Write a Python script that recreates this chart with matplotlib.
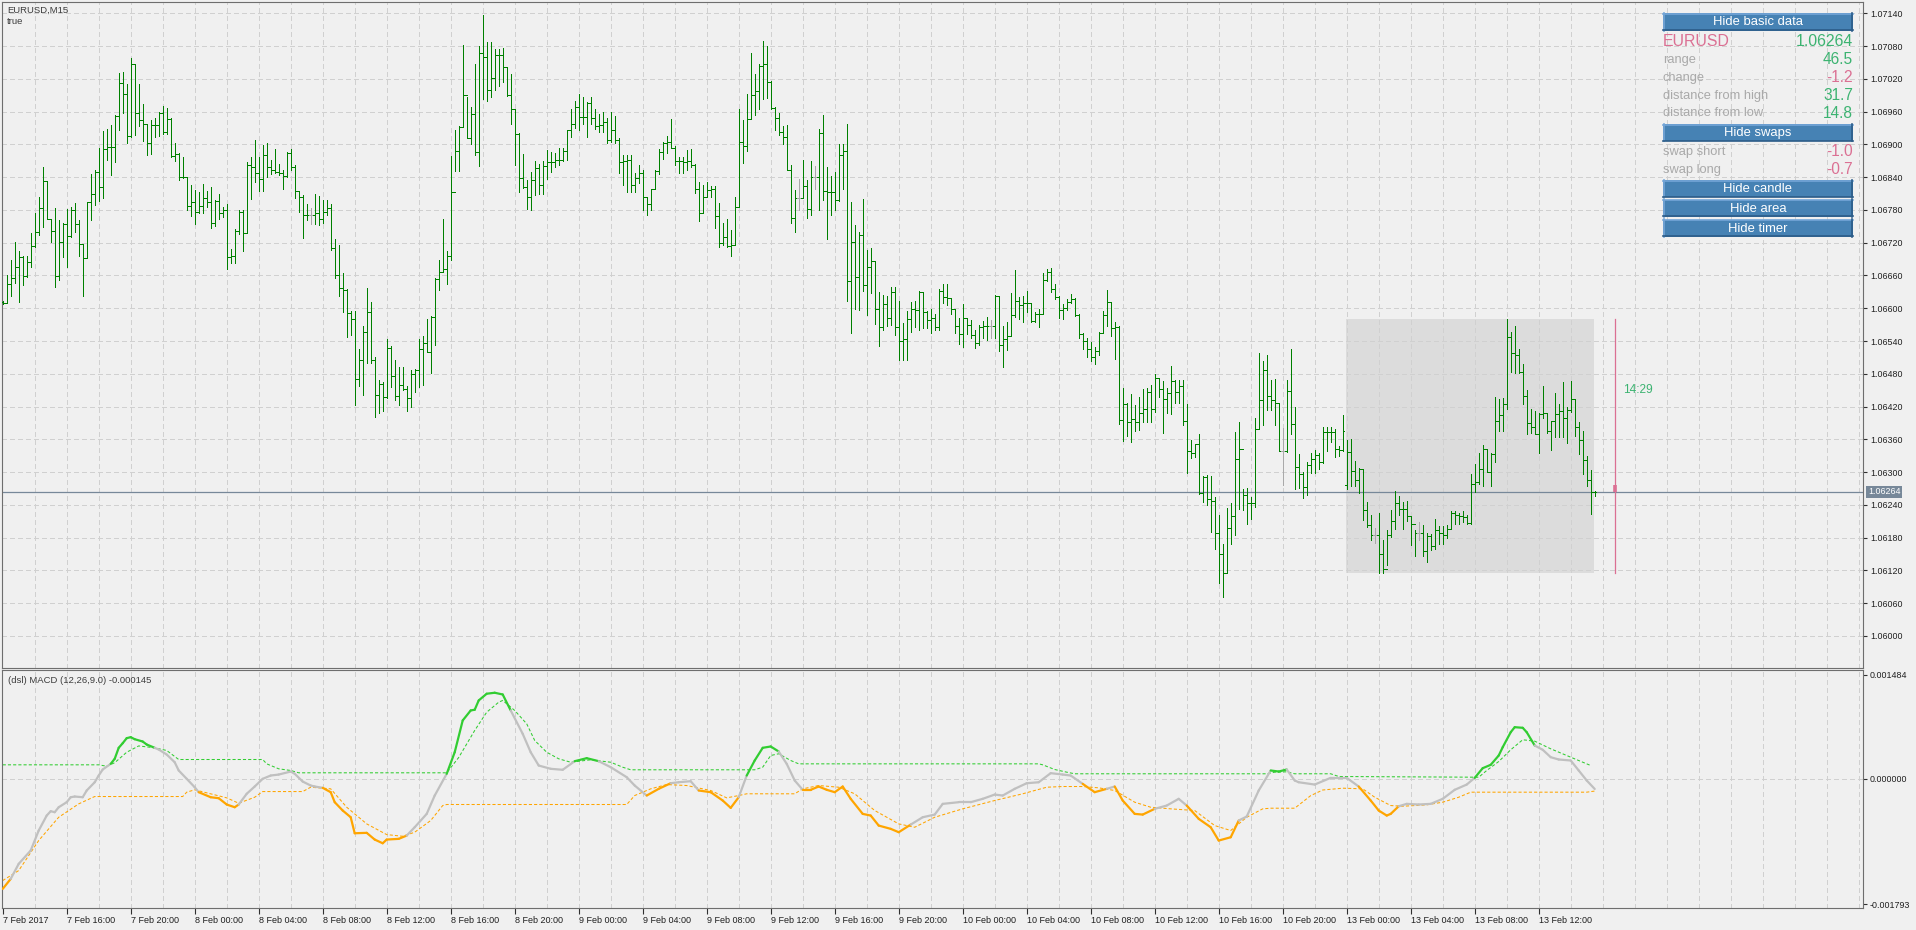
import numpy as np
import matplotlib
matplotlib.use("Agg")
import matplotlib.pyplot as plt
from matplotlib.collections import LineCollection
from matplotlib.patches import Rectangle
from matplotlib import transforms

plt.rcParams['font.family'] = ['Liberation Sans', 'DejaVu Sans']

# EURUSD M15 bars, prices in points (1e-5), bar 0 = 7 Feb 2017 12:00
high_pts = [
    106614, 106661, 106688, 106721, 106705, 106695, 106695, 106737, 106775, 106803,
    106859, 106833, 106764, 106783, 106761, 106756, 106781, 106786, 106792, 106761,
    106717, 106794, 106846, 106853, 106893, 106925, 106929, 106935, 106953, 107031,
    107032, 107011, 107058, 107048, 107010, 106974, 106938, 106944, 106949, 106960,
    106970, 106966, 106949, 106902, 106885, 106877, 106841, 106825, 106816, 106813,
    106828, 106814, 106822, 106798, 106810, 106786, 106791, 106709, 106745, 106780,
    106780, 106867, 106877, 106908, 106877, 106898, 106903, 106871, 106892, 106865,
    106853, 106886, 106892, 106863, 106814, 106807, 106791, 106783, 106809, 106805,
    106799, 106799, 106791, 106726, 106716, 106664, 106636, 106595, 106595, 106525,
    106567, 106637, 106612, 106510, 106469, 106465, 106543, 106531, 106505, 106492,
    106492, 106458, 106487, 106488, 106543, 106549, 106580, 106586, 106656, 106688,
    106763, 106705, 106879, 106926, 106933, 107082, 106986, 106969, 107047, 107080,
    107137, 107087, 107087, 107074, 107074, 107077, 107042, 107029, 106964, 106920,
    106882, 106835, 106850, 106870, 106865, 106869, 106890, 106886, 106885, 106893,
    106894, 106926, 106965, 106980, 106993, 106986, 106978, 106986, 106965, 106955,
    106960, 106949, 106960, 106952, 106912, 106880, 106880, 106880, 106848, 106863,
    106853, 106804, 106819, 106853, 106891, 106905, 106915, 106946, 106897, 106877,
    106877, 106890, 106891, 106864, 106832, 106825, 106832, 106824, 106824, 106792,
    106757, 106764, 106743, 106804, 106964, 106944, 106993, 107068, 107029, 107048,
    107090, 107080, 107016, 106968, 106957, 106933, 106935, 106863, 106816, 106836,
    106871, 106835, 106870, 106860, 106929, 106953, 106859, 106843, 106850, 106901,
    106901, 106937, 106794, 106752, 106740, 106800, 106706, 106711, 106687, 106630,
    106624, 106622, 106639, 106639, 106613, 106573, 106595, 106612, 106614, 106631,
    106629, 106595, 106599, 106589, 106635, 106644, 106644, 106617, 106598, 106582,
    106607, 106583, 106578, 106560, 106569, 106576, 106584, 106579, 106624, 106623,
    106567, 106574, 106628, 106670, 106621, 106623, 106631, 106609, 106593, 106599,
    106665, 106671, 106673, 106645, 106623, 106607, 106617, 106626, 106618, 106590,
    106555, 106545, 106538, 106529, 106556, 106595, 106633, 106612, 106574, 106567,
    106454, 106426, 106443, 106423, 106438, 106452, 106454, 106459, 106479, 106473,
    106466, 106454, 106494, 106468, 106468, 106468, 106424, 106359, 106352, 106370,
    106293, 106294, 106293, 106254, 106221, 106169, 106235, 106243, 106373, 106391,
    106269, 106271, 106254, 106399, 106518, 106504, 106515, 106468, 106470, 106425,
    106380, 106469, 106526, 106420, 106333, 106300, 106318, 106335, 106340, 106335,
    106382, 106383, 106382, 106379, 106347, 106405, 106359, 106360, 106321, 106307,
    106306, 106245, 106222, 106197, 106225, 106176, 106194, 106230, 106266, 106257,
    106246, 106247, 106217, 106194, 106208, 106203, 106188, 106187, 106214, 106202,
    106202, 106203, 106229, 106229, 106225, 106229, 106222, 106297, 106315, 106335,
    106349, 106343, 106335, 106438, 106433, 106435, 106581, 106557, 106568, 106526,
    106498, 106451, 106415, 106412, 106409, 106458, 106406, 106394, 106444, 106425,
    106465, 106420, 106467, 106433, 106391, 106375, 106330, 106304, 106266,
]
low_pts = [
    106608, 106609, 106622, 106647, 106612, 106642, 106658, 106676, 106713, 106735,
    106748, 106763, 106722, 106639, 106652, 106693, 106676, 106731, 106740, 106695,
    106623, 106692, 106761, 106789, 106796, 106802, 106871, 106844, 106868, 106927,
    106957, 106902, 106914, 106917, 106934, 106907, 106880, 106882, 106914, 106915,
    106919, 106919, 106877, 106870, 106835, 106839, 106780, 106769, 106755, 106775,
    106774, 106786, 106747, 106751, 106763, 106767, 106672, 106683, 106683, 106736,
    106705, 106737, 106800, 106831, 106815, 106815, 106841, 106846, 106847, 106844,
    106819, 106841, 106853, 106801, 106777, 106729, 106761, 106754, 106755, 106752,
    106756, 106770, 106706, 106655, 106622, 106594, 106547, 106551, 106423, 106458,
    106442, 106499, 106499, 106401, 106408, 106411, 106436, 106456, 106432, 106423,
    106451, 106411, 106420, 106447, 106456, 106459, 106520, 106481, 106533, 106633,
    106667, 106645, 106688, 106852, 106852, 106931, 106911, 106900, 106880, 106861,
    106983, 106980, 106986, 107000, 107007, 107015, 106989, 106938, 106863, 106813,
    106821, 106782, 106780, 106808, 106810, 106810, 106836, 106849, 106858, 106863,
    106870, 106871, 106914, 106930, 106926, 106937, 106913, 106938, 106929, 106923,
    106923, 106902, 106905, 106902, 106847, 106825, 106813, 106812, 106812, 106830,
    106780, 106771, 106779, 106818, 106846, 106873, 106885, 106893, 106862, 106847,
    106847, 106853, 106859, 106811, 106760, 106774, 106803, 106804, 106747, 106713,
    106716, 106713, 106696, 106716, 106786, 106866, 106888, 106947, 106953, 106964,
    106984, 106985, 106964, 106926, 106917, 106900, 106853, 106757, 106740, 106780,
    106801, 106766, 106771, 106818, 106779, 106799, 106727, 106771, 106779, 106797,
    106818, 106614, 106555, 106598, 106596, 106632, 106587, 106628, 106572, 106531,
    106561, 106568, 106569, 106551, 106505, 106505, 106505, 106556, 106565, 106560,
    106563, 106563, 106554, 106560, 106560, 106609, 106606, 106589, 106555, 106535,
    106529, 106552, 106545, 106528, 106532, 106545, 106542, 106545, 106546, 106522,
    106492, 106523, 106551, 106584, 106580, 106574, 106593, 106575, 106574, 106566,
    106590, 106650, 106630, 106617, 106583, 106581, 106596, 106609, 106586, 106546,
    106526, 106511, 106504, 106498, 106514, 106554, 106568, 106549, 106507, 106389,
    106357, 106366, 106355, 106376, 106377, 106391, 106391, 106391, 106410, 106438,
    106372, 106409, 106407, 106427, 106426, 106387, 106298, 106325, 106328, 106260,
    106246, 106240, 106191, 106160, 106097, 106072, 106118, 106168, 106184, 106232,
    106231, 106205, 106214, 106237, 106380, 106386, 106413, 106413, 106386, 106338,
    106277, 106336, 106370, 106269, 106271, 106252, 106258, 106298, 106298, 106305,
    106316, 106338, 106356, 106327, 106329, 106338, 106269, 106275, 106274, 106261,
    106213, 106199, 106175, 106170, 106116, 106116, 106130, 106181, 106196, 106222,
    106196, 106210, 106167, 106147, 106176, 106147, 106135, 106158, 106159, 106169,
    106169, 106180, 106196, 106205, 106205, 106208, 106205, 106205, 106263, 106278,
    106275, 106300, 106275, 106318, 106376, 106376, 106415, 106483, 106482, 106482,
    106424, 106369, 106372, 106370, 106335, 106399, 106371, 106340, 106365, 106364,
    106364, 106354, 106410, 106367, 106333, 106296, 106274, 106224, 106257,
]
open_pts = [
    106612, 106609, 106645, 106655, 106676, 106694, 106659, 106684, 106714, 106739,
    106783, 106833, 106764, 106742, 106659, 106722, 106755, 106733, 106780, 106755,
    106717, 106692, 106794, 106810, 106850, 106822, 106891, 106896, 106896, 106952,
    107013, 106993, 106916, 107048, 106958, 106944, 106938, 106902, 106935, 106936,
    106957, 106923, 106947, 106878, 106883, 106841, 106841, 106787, 106795, 106777,
    106788, 106801, 106795, 106756, 106797, 106774, 106780, 106693, 106696, 106741,
    106777, 106737, 106862, 106859, 106847, 106836, 106880, 106859, 106854, 106850,
    106848, 106842, 106885, 106859, 106814, 106804, 106770, 106770, 106770, 106775,
    106764, 106777, 106783, 106711, 106660, 106638, 106633, 106591, 106580, 106470,
    106505, 106557, 106594, 106505, 106442, 106461, 106438, 106528, 106476, 106440,
    106459, 106453, 106435, 106480, 106487, 106526, 106537, 106520, 106584, 106653,
    106667, 106671, 106695, 106812, 106888, 106932, 106991, 106911, 106955, 106886,
    107068, 107060, 107000, 107021, 107063, 107063, 107042, 106990, 106964, 106919,
    106838, 106822, 106804, 106835, 106856, 106825, 106861, 106868, 106867, 106872,
    106872, 106888, 106926, 106938, 106969, 106951, 106951, 106975, 106948, 106933,
    106935, 106941, 106908, 106926, 106908, 106868, 106870, 106872, 106825, 106838,
    106847, 106803, 106791, 106819, 106852, 106886, 106903, 106905, 106893, 106870,
    106870, 106868, 106870, 106863, 106819, 106774, 106803, 106816, 106819, 106768,
    106720, 106730, 106714, 106716, 106786, 106904, 106897, 106947, 106990, 106998,
    107044, 107048, 107015, 106966, 106949, 106923, 106914, 106853, 106766, 106801,
    106801, 106824, 106781, 106840, 106840, 106921, 106815, 106813, 106813, 106798,
    106880, 106888, 106650, 106721, 106657, 106734, 106642, 106675, 106687, 106599,
    106565, 106607, 106583, 106629, 106565, 106540, 106544, 106581, 106598, 106596,
    106629, 106593, 106578, 106582, 106565, 106631, 106621, 106618, 106598, 106568,
    106552, 106583, 106569, 106551, 106537, 106566, 106568, 106568, 106568, 106623,
    106532, 106544, 106549, 106587, 106613, 106606, 106609, 106610, 106576, 106589,
    106590, 106651, 106667, 106635, 106620, 106596, 106601, 106612, 106617, 106588,
    106552, 106540, 106526, 106511, 106521, 106555, 106588, 106612, 106563, 106566,
    106395, 106424, 106391, 106398, 106392, 106409, 106416, 106447, 106415, 106473,
    106452, 106433, 106444, 106467, 106447, 106458, 106393, 106338, 106335, 106351,
    106261, 106291, 106251, 106247, 106188, 106150, 106116, 106197, 106219, 106324,
    106342, 106258, 106243, 106243, 106379, 106432, 106487, 106440, 106432, 106426,
    106338, 106338, 106449, 106388, 106310, 106297, 106272, 106313, 106324, 106332,
    106318, 106373, 106374, 106373, 106342, 106341, 106277, 106336, 106302, 106286,
    106306, 106230, 106203, 106185, 106185, 106150, 106123, 106184, 106211, 106243,
    106232, 106232, 106219, 106205, 106188, 106188, 106156, 106183, 106164, 106194,
    106188, 106185, 106196, 106226, 106222, 106219, 106218, 106207, 106278, 106282,
    106306, 106342, 106300, 106333, 106394, 106405, 106425, 106547, 106518, 106515,
    106483, 106440, 106390, 106383, 106370, 106407, 106408, 106376, 106393, 106407,
    106411, 106399, 106413, 106433, 106383, 106359, 106322, 106285, 106264,
]
close_pts = [
    106609, 106645, 106655, 106676, 106694, 106659, 106684, 106714, 106739, 106783,
    106833, 106764, 106742, 106659, 106722, 106755, 106733, 106780, 106755, 106717,
    106692, 106794, 106810, 106850, 106822, 106891, 106896, 106896, 106952, 107013,
    106993, 106916, 107048, 106958, 106944, 106938, 106902, 106935, 106936, 106957,
    106923, 106947, 106878, 106883, 106841, 106841, 106787, 106795, 106777, 106788,
    106801, 106795, 106756, 106797, 106774, 106780, 106693, 106696, 106741, 106777,
    106737, 106862, 106859, 106847, 106836, 106880, 106859, 106854, 106850, 106848,
    106842, 106885, 106859, 106814, 106804, 106770, 106770, 106770, 106775, 106764,
    106777, 106783, 106711, 106660, 106638, 106633, 106591, 106580, 106470, 106505,
    106557, 106594, 106505, 106442, 106461, 106438, 106528, 106476, 106440, 106459,
    106453, 106435, 106480, 106487, 106526, 106537, 106520, 106584, 106653, 106667,
    106671, 106695, 106812, 106888, 106932, 106991, 106911, 106955, 106886, 107068,
    107060, 107000, 107021, 107063, 107063, 107042, 106990, 106964, 106919, 106838,
    106822, 106804, 106835, 106856, 106825, 106861, 106868, 106867, 106872, 106872,
    106888, 106926, 106938, 106969, 106951, 106951, 106975, 106948, 106933, 106935,
    106941, 106908, 106926, 106908, 106868, 106870, 106872, 106825, 106838, 106847,
    106803, 106791, 106819, 106852, 106886, 106903, 106905, 106893, 106870, 106870,
    106868, 106870, 106863, 106819, 106774, 106803, 106816, 106819, 106768, 106720,
    106730, 106714, 106716, 106786, 106904, 106897, 106947, 106990, 106998, 107044,
    107048, 107015, 106966, 106949, 106923, 106914, 106853, 106766, 106801, 106801,
    106824, 106781, 106840, 106840, 106921, 106815, 106813, 106813, 106798, 106880,
    106888, 106650, 106721, 106657, 106734, 106642, 106675, 106687, 106599, 106565,
    106607, 106583, 106629, 106565, 106540, 106544, 106581, 106598, 106596, 106629,
    106593, 106578, 106582, 106565, 106631, 106621, 106618, 106598, 106568, 106552,
    106583, 106569, 106551, 106537, 106566, 106568, 106568, 106568, 106623, 106532,
    106544, 106549, 106587, 106613, 106606, 106609, 106610, 106576, 106589, 106590,
    106651, 106667, 106635, 106620, 106596, 106601, 106612, 106617, 106588, 106552,
    106540, 106526, 106511, 106521, 106555, 106588, 106612, 106563, 106566, 106395,
    106424, 106391, 106398, 106392, 106409, 106416, 106447, 106415, 106473, 106452,
    106433, 106444, 106467, 106447, 106458, 106393, 106338, 106335, 106351, 106261,
    106291, 106251, 106247, 106188, 106150, 106116, 106197, 106219, 106324, 106342,
    106258, 106243, 106243, 106379, 106432, 106487, 106440, 106432, 106426, 106338,
    106338, 106449, 106388, 106310, 106297, 106272, 106313, 106324, 106332, 106318,
    106373, 106374, 106373, 106342, 106341, 106376, 106336, 106302, 106286, 106306,
    106230, 106203, 106185, 106185, 106150, 106123, 106184, 106211, 106243, 106232,
    106232, 106219, 106205, 106188, 106188, 106156, 106183, 106164, 106194, 106188,
    106185, 106196, 106226, 106222, 106219, 106218, 106207, 106278, 106282, 106306,
    106342, 106300, 106333, 106394, 106405, 106425, 106547, 106518, 106515, 106483,
    106440, 106390, 106383, 106370, 106407, 106408, 106376, 106393, 106407, 106411,
    106399, 106413, 106433, 106383, 106359, 106322, 106285, 106264, 106264,
]
doji_bars = [77, 199, 203, 247, 320, 343, 354]

time_labels = ["7 Feb 2017", "7 Feb 16:00", "7 Feb 20:00", "8 Feb 00:00", "8 Feb 04:00",
               "8 Feb 08:00", "8 Feb 12:00", "8 Feb 16:00", "8 Feb 20:00", "9 Feb 00:00",
               "9 Feb 04:00", "9 Feb 08:00", "9 Feb 12:00", "9 Feb 16:00", "9 Feb 20:00",
               "10 Feb 00:00", "10 Feb 04:00", "10 Feb 08:00", "10 Feb 12:00", "10 Feb 16:00",
               "10 Feb 20:00", "13 Feb 00:00", "13 Feb 04:00", "13 Feb 08:00", "13 Feb 12:00"]
price_tick_labels = ["1.06000", "1.06060", "1.06120", "1.06180", "1.06240", "1.06300",
                     "1.06360", "1.06420", "1.06480", "1.06540", "1.06600", "1.06660",
                     "1.06720", "1.06780", "1.06840", "1.06900", "1.06960", "1.07020",
                     "1.07080", "1.07140"]

current_price = 1.06264
day_high = 1.06581
day_low = 1.06116
day_start_bar = 336
timer_text = "14:29"
timer_label_price = 1.06450

# dsl MACD (12,26,9), values in 1e-6
macd_bars = [0, 2, 4, 7, 9, 11, 12, 13, 14, 16, 17, 18, 20, 21, 23, 24, 25, 27, 28, 29,
             30, 31, 32, 33, 35, 36, 38, 39, 41, 43, 44, 46, 48, 49, 52, 54, 56, 58, 59, 61,
             63, 65, 67, 69, 72, 73, 75, 77, 78, 80, 82, 83, 85, 87, 88, 91, 93, 95, 96, 99,
             101, 103, 106, 108, 111, 113, 115, 117, 118, 119, 121, 123, 125, 127, 130, 132,
             134, 137, 140, 143, 146, 149, 152, 156, 158, 161, 164, 167, 169, 172, 174, 177,
             180, 182, 184, 186, 188, 190, 192, 194, 196, 198, 200, 202, 204, 206, 208, 210,
             212, 215, 217, 219, 222, 224, 227, 230, 233, 235, 239, 242, 245, 248, 250, 253,
             256, 259, 262, 265, 267, 270, 273, 276, 278, 280, 283, 285, 288, 291, 294, 296,
             299, 302, 304, 307, 309, 311, 314, 317, 319, 321, 323, 324, 328, 332, 336, 339,
             342, 344, 346, 347, 349, 351, 354, 357, 360, 363, 366, 368, 370, 372, 374, 375,
             377, 378, 380, 381, 383, 385, 387, 389, 392, 394, 396, 398]
macd_vals = [-1573, -1430, -1215, -1025, -739, -525, -463, -477, -406, -334, -263, -253, -263,
             -167, -49, 47, 133, 214, 286, 443, 509, 581, 595, 566, 533, 490, 443, 419, 347,
             237, 119, 0, -120, -191, -263, -277, -367, -406, -367, -214, -110, 0, 47, 61, 104,
             72, -39, -96, -110, -129, -191, -334, -453, -549, -778, -772, -868, -921, -868,
             -858, -811, -692, -501, -239, 72, 380, 834, 977, 987, 1120, 1216, 1230, 1205, 977,
             643, 380, 190, 143, 129, 252, 295, 252, 166, 23, -96, -239, -143, -63, -49, -34,
             -167, -191, -310, -415, -263, 47, 262, 443, 462, 390, 214, -24, -157, -157, -110,
             -157, -191, -110, -286, -501, -525, -668, -715, -763, -654, -549, -511, -358, -334,
             -334, -286, -225, -239, -143, -63, -49, 81, 61, 47, -72, -191, -143, -110, -310,
             -501, -511, -429, -382, -286, -382, -572, -692, -882, -835, -596, -539, -167, 119,
             104, 133, -24, -49, -82, 14, 14, -110, -310, -453, -525, -501, -392, -358, -367,
             -358, -286, -157, -82, 14, 152, 200, 333, 452, 666, 738, 729, 666, 476, 415, 309,
             276, 262, 119, -24, -145]
up_bars = [0, 24, 26, 28, 31, 34, 38, 41, 44, 65, 66, 69, 72, 74, 111, 114, 118, 121, 124, 125,
           128, 131, 133, 136, 139, 142, 147, 152, 155, 157, 188, 190, 192, 194, 197, 199, 259,
           260, 263, 266, 268, 316, 318, 321, 323, 332, 334, 369, 371, 374, 377, 380, 383, 387,
           392, 397]
up_vals = [200, 200, 180, 230, 380, 470, 443, 405, 276, 276, 214, 143, 119, 86, 86, 305, 691,
           952, 1095, 1120, 977, 786, 548, 380, 286, 237, 272, 237, 166, 129, 129, 166, 333, 358,
           262, 214, 214, 200, 133, 95, 72, 72, 95, 100, 72, 72, 33, 23, 119, 247, 415, 558, 538,
           429, 309, 190]
dn_bars = [0, 4, 9, 14, 19, 23, 45, 46, 48, 51, 56, 59, 63, 65, 75, 77, 82, 86, 91, 96, 100,
           103, 107, 110, 111, 156, 158, 162, 166, 171, 177, 181, 184, 186, 198, 200, 204, 209,
           213, 218, 224, 228, 233, 240, 248, 255, 261, 265, 270, 274, 278, 283, 287, 292, 298,
           303, 307, 311, 315, 317, 323, 325, 327, 330, 335, 340, 343, 347, 350, 356, 360, 364,
           367, 396, 398]
dn_vals = [-1454, -1311, -882, -549, -358, -253, -253, -191, -157, -200, -272, -349, -263, -182,
           -182, -120, -143, -406, -644, -797, -821, -763, -596, -382, -367, -367, -239, -143,
           -82, -96, -167, -272, -239, -214, -214, -143, -96, -120, -214, -453, -644, -692, -549,
           -429, -310, -214, -120, -110, -110, -129, -167, -334, -406, -429, -453, -668, -739,
           -549, -429, -420, -420, -330, -240, -160, -134, -143, -263, -382, -392, -372, -334,
           -263, -191, -191, -175]
macd_last = -0.000145
macd_top_label = 0.001484
macd_bottom_label = -0.001793

symbol = "EURUSD"
info_labels = ["range", "change", "distance from high", "distance from low"]
info_values = [46.5, -1.2, 31.7, 14.8]
swap_labels = ["swap short", "swap long"]
swap_values = [-1.0, -0.7]

BG = '#f0f0f0'
GRID = '#d0d0d0'
FRAME = '#6e6e6e'
BAR_GREEN = '#008000'
BAR_GREY = '#a9a9a9'
LIME = '#32cd32'
ORANGE = '#ffa500'
SILVER = '#c0c0c0'
PINK = '#db7093'
SEA = '#3cb371'
SLATE = '#778899'
BTN = '#4682b4'

W, H = 1916, 930
fig = plt.figure(figsize=(W / 100, H / 100), dpi=100, facecolor=BG)


def px_axes(x0, y0, x1, y1):
    a = fig.add_axes([x0 / W, 1 - y1 / H, (x1 - x0) / W, (y1 - y0) / H])
    a.set_facecolor(BG)
    for s in a.spines.values():
        s.set_color(FRAME)
        s.set_linewidth(0.8)
    return a


ax = px_axes(2, 2, 1863, 668)
ax2 = px_axes(2, 670, 1863, 908)

n = len(close_pts)
hi = np.array(high_pts) / 1e5
lo = np.array(low_pts) / 1e5
op = np.array(open_pts) / 1e5
cl = np.array(close_pts) / 1e5

XMIN, XMAX = -0.175, 465.07
dash = (0, (4, 3))
for a in (ax, ax2):
    a.set_xlim(XMIN, XMAX)
    for k in range(8, 465, 8):
        a.axvline(k, color=GRID, lw=0.75, ls=dash, zorder=0.5, antialiased=False)

# price panel
ax.set_ylim(1.059414, 1.071607)
price_ticks = [float(t) for t in price_tick_labels]
for t in price_ticks:
    ax.axhline(t, color=GRID, lw=0.75, ls=dash, zorder=0.5, antialiased=False)
ax.set_yticks(price_ticks)
ax.set_yticklabels(price_tick_labels)
ax.tick_params(axis='y', left=False, labelleft=False, right=True, labelright=True,
               direction='out', length=3, width=0.8, color='#303030', labelsize=6.4,
               labelcolor='#202020', pad=2)
ax.tick_params(axis='x', bottom=False, labelbottom=False)

ax.add_patch(Rectangle((day_start_bar - 0.2, day_low), n - 1 - day_start_bar, day_high - day_low,
                       fc='#dcdcdc', ec='none', zorder=0.2))
ax.axhline(current_price, color=SLATE, lw=0.9, zorder=2)

segs, cols = [], []
for i in range(n):
    c = BAR_GREY if i in doji_bars else BAR_GREEN
    segs.append([(i, lo[i]), (i, hi[i])])
    segs.append([(i - 0.4, op[i]), (i, op[i])])
    segs.append([(i, cl[i]), (i + 0.4, cl[i])])
    cols += [c, c, c]
ax.add_collection(LineCollection(segs, colors=cols, linewidths=0.72, antialiaseds=False, zorder=3))

# candle timer
timer_bar = n - 1 + 5
ax.plot([timer_bar, timer_bar], [day_low, day_high], color=PINK, lw=0.9, zorder=3)
ax.plot([timer_bar, timer_bar], [current_price, current_price + 0.00013], color=PINK, lw=2.6,
        solid_capstyle='butt', zorder=3)
ax.text(timer_bar + 2, timer_label_price, timer_text, color=SEA, fontsize=8.6, va='center', ha='left')

trans = transforms.blended_transform_factory(ax.transAxes, ax.transData)
ax.text(1 + 5 / 1861, current_price, f"{current_price:.5f}", transform=trans, ha='left', va='center',
        fontsize=6.4, color='white', clip_on=False, zorder=10,
        bbox=dict(boxstyle='square,pad=0.2', fc=SLATE, ec='none'))

# macd panel
ax2.set_ylim(-0.001846, 0.001555)
ax2.axhline(0, color=GRID, lw=0.75, ls=dash, zorder=0.5, antialiased=False)
ax2.set_yticks([macd_top_label, 0, macd_bottom_label])
ax2.set_yticklabels([f"{v:.6f}" for v in (macd_top_label, 0, macd_bottom_label)])
ax2.tick_params(axis='y', left=False, labelleft=False, right=True, labelright=True,
                direction='out', length=3, width=0.8, color='#303030', labelsize=6.4,
                labelcolor='#202020', pad=2)
ax2.set_xticks(np.arange(len(time_labels)) * 16)
ax2.set_xticklabels(time_labels)
ax2.tick_params(axis='x', direction='out', length=4, width=0.8, color='#303030', labelsize=6.5,
                labelcolor='#202020', pad=1.5)
plt.setp(ax2.get_xticklabels(), ha='left')

up = np.array(up_vals) * 1e-6
dn = np.array(dn_vals) * 1e-6
ax2.plot(up_bars, up, color=LIME, lw=0.75, ls=(0, (3, 2)), zorder=2)
ax2.plot(dn_bars, dn, color=ORANGE, lw=0.75, ls=(0, (3, 2)), zorder=2)

mb = np.array(macd_bars, dtype=float)
mv = np.array(macd_vals) * 1e-6
up_at = np.interp(mb, up_bars, up)
dn_at = np.interp(mb, dn_bars, dn)
pts = np.column_stack([mb, mv])
msegs = np.stack([pts[:-1], pts[1:]], axis=1)
mid = (mv[:-1] + mv[1:]) / 2
mcols = []
for j in range(len(mid)):
    if mid[j] > (up_at[j] + up_at[j + 1]) / 2:
        mcols.append(LIME)
    elif mid[j] < (dn_at[j] + dn_at[j + 1]) / 2:
        mcols.append(ORANGE)
    else:
        mcols.append(SILVER)
ax2.add_collection(LineCollection(msegs, colors=mcols, linewidths=1.6, capstyle='round', zorder=3))

# overlay for labels and panel buttons (pixel coords)
ov = fig.add_axes([0, 0, 1, 1], zorder=10)
ov.set_xlim(0, W)
ov.set_ylim(H, 0)
ov.axis('off')
ov.patch.set_visible(False)

ov.text(7, 10, "EURUSD,M15", fontsize=6.8, color='#3c3c3c', va='center')
ov.text(7, 21, "true", fontsize=6.8, color='#3c3c3c', va='center')
ov.text(8, 680, f"(dsl) MACD (12,26,9.0) {macd_last:.6f}", fontsize=6.8, color='#3c3c3c', va='center')

bx0, bx1 = 1663, 1853
buttons = [("Hide basic data", 13.3), ("Hide swaps", 124), ("Hide candle", 180),
           ("Hide area", 199.5), ("Hide timer", 219.5)]
for label, y0 in buttons:
    ov.add_patch(Rectangle((bx0, y0), bx1 - bx0, 17.5, fc=BTN, ec='none'))
    ov.plot([bx0, bx1], [y0 + 0.7, y0 + 0.7], color='#74a6d8', lw=1.2)
    ov.plot([bx0 + 0.7, bx0 + 0.7], [y0, y0 + 17.5], color='#74a6d8', lw=1.2)
    ov.plot([bx0, bx1], [y0 + 16.8, y0 + 16.8], color='#2c5c88', lw=1.2)
    ov.plot([bx1 - 0.7, bx1 - 0.7], [y0, y0 + 17.5], color='#2c5c88', lw=1.2)
    ov.text((bx0 + bx1) / 2, y0 + 9, label, color='white', fontsize=9.4, ha='center', va='center')

ov.text(bx0, 42, symbol, color=PINK, fontsize=11.4, va='center')
ov.text(bx1, 42, f"{current_price:.5f}", color=SEA, fontsize=11.4, va='center', ha='right')
for lab, val, y in zip(info_labels + swap_labels, info_values + swap_values,
                       [60, 77.7, 95.7, 113.3, 152, 170]):
    ov.text(bx0, y, lab, color='#a9a9a9', fontsize=9.3, va='center')
    ov.text(bx1, y, f"{val:.1f}", color=SEA if val >= 0 else PINK, fontsize=11.2,
            va='center', ha='right')

fig.savefig('out.png', dpi=100, facecolor=BG)
